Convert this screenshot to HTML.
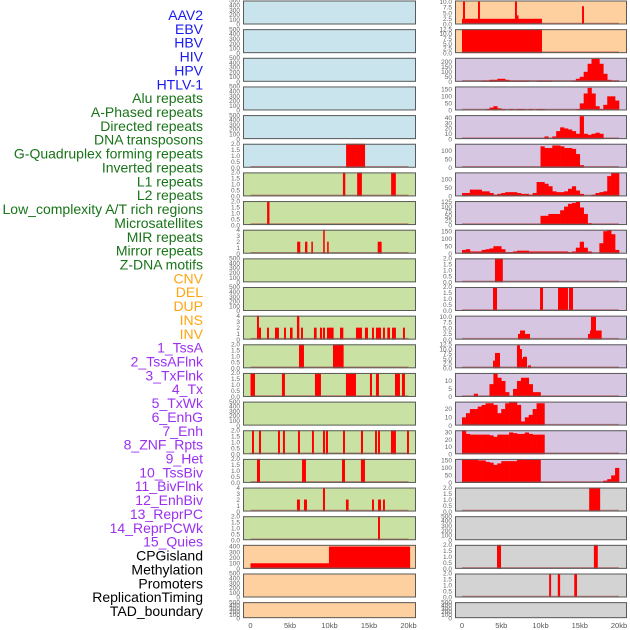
<!DOCTYPE html>
<html><head><meta charset="utf-8"><style>
html,body{margin:0;padding:0;background:#fff;width:630px;height:630px;overflow:hidden}
svg{display:block;font-family:"Liberation Sans",sans-serif}
</style></head><body>
<svg id="chart" width="630" height="630" viewBox="0 0 630 630" xmlns="http://www.w3.org/2000/svg"></svg>
<script>
// ---- Labels ----
const labels = ["AAV2","EBV","HBV","HIV","HPV","HTLV-1","Alu repeats","A-Phased repeats","Directed repeats","DNA transposons","G-Quadruplex forming repeats","Inverted repeats","L1 repeats","L2 repeats","Low_complexity A/T rich regions","Microsatellites","MIR repeats","Mirror repeats","Z-DNA motifs","CNV","DEL","DUP","INS","INV","1_TssA","2_TssAFlnk","3_TxFlnk","4_Tx","5_TxWk","6_EnhG","7_Enh","8_ZNF_Rpts","9_Het","10_TssBiv","11_BivFlnk","12_EnhBiv","13_ReprPC","14_ReprPCWk","15_Quies","CPGisland","Methylation","Promoters","ReplicationTiming","TAD_boundary"];
const labelGroups = [6,13,5,15,5];
const groupColors = ["#1a1aee","#187418","#ffa510","#9b30f0","#000000"];
const xTickValues = [0,5,10,15,20];
const xTickLabels = ["0","5kb","10kb","15kb","20kb"];

// ---- Tick sets ----
const ticks500 = [0,100,200,300,400,500];
const ticks2 = [0,0.5,1,1.5,2];
const ticks4 = [0,1,2,3,4];

// ---- Left column segments [startKb,endKb,value] ----
const L5 = [[12.1,14.5,2]];
const L6 = [[11.7,12.0,2],[13.5,14.1,2],[17.8,18.4,2]];
const L7 = [[2.1,2.4,2]];
const L8 = [[5.9,6.3,2],[6.9,7.2,2],[7.7,7.9,2],[9.2,9.4,4],[9.7,9.9,2],[16.1,16.6,2]];
const L11 = [[0.82,1.07,4],[1.07,1.33,2],[2.09,2.34,2],[3.1,3.6,2],[4.24,4.49,2],[5.0,5.33,2],[5.88,6.18,4],[6.39,6.64,2],[8.03,8.37,2],[8.79,9.05,2],[9.17,9.43,2],[9.68,10.52,2],[11.33,11.75,2],[13.35,14.11,2],[14.49,14.87,2],[15.38,15.63,2],[15.88,16.52,2],[16.77,17.02,2],[17.32,17.66,2],[17.91,18.41,2],[19.3,19.55,2]];
const L12 = [[6.14,6.77,2],[10.44,11.79,2]];
const L13 = [[0,0.57,2],[3.98,4.36,2],[8.16,8.92,2],[12.08,13.35,2],[15.12,15.38,2],[15.88,16.26,2],[18.29,18.92,2],[19.17,19.55,2]];
const L15 = [[0.19,0.44,2],[1.07,1.33,2],[3.48,3.73,2],[4.11,4.36,2],[6.01,6.26,2],[7.78,8.03,2],[9.17,9.43,2],[9.55,9.81,2],[11.71,11.96,2],[13.98,14.24,2],[15.76,16.01,2],[16.14,16.39,2],[17.78,18.41,2],[19.81,20.06,2]];
const L16 = [[0.82,1.2,2],[6.52,7.02,2],[11.58,11.96,2],[13.98,14.49,2]];
const L17 = [[5.88,6.26,2],[6.77,7.15,2],[9.17,9.43,4],[12.08,12.42,2],[15.38,15.63,2],[16.14,16.52,2],[16.77,17.02,2]];
const L18 = [[16.14,16.39,2]];
const L19 = [[0,9.93,100],[9.93,20.2,400]];

// ---- Right column: segments and 0.5kb bins ----
const R0 = [[0,10.19,2.5],[0.13,0.38,10],[2.04,2.29,10],[6.75,7.0,10],[7.0,7.2,4],[15.29,15.54,8]];
const R1 = [[0,10.19,12.5]];
const R2bins = [0,0,0,0,0,10,10,20,20,30,30,20,10,10,10,10,10,0,0,10,10,10,10,0,0,0,0,0,10,30,50,100,180,230,230,180,80,20,10,10];
const R3bins = [0,0,0,0,0,0,10,20,30,15,10,0,10,5,10,10,5,10,0,10,10,0,0,0,0,0,0,0,0,10,50,120,160,120,30,10,40,100,100,70];
const R4bins = [0,0,0,0,0,0,0,0,0,0,0,0,0,0,0,0,0,0,0,0,0,5,0,5,15,22,20,18,15,10,43,10,8,10,12,10,0,0,0,0];
const R5bins = [0,0,0,0,0,0,0,0,0,0,0,0,0,0,0,0,0,0,0,0,125,115,115,130,130,125,115,115,110,80,15,0,0,0,0,0,0,0,0,0];
const R6bins = [20,20,40,40,40,30,30,20,10,15,20,25,25,25,20,15,15,10,20,85,85,75,60,30,25,25,30,45,60,35,15,0,0,10,20,25,30,120,140,140];
const R7bins = [0,0,0,0,0,0,0,0,0,0,0,0,0,0,0,0,0,0,0,0,50,50,60,60,60,80,100,115,120,125,95,60,10,0,0,0,0,0,0,0];
const R8bins = [25,30,15,15,15,25,30,35,50,50,30,10,10,15,20,20,20,15,15,15,15,15,15,15,15,15,15,10,15,40,80,40,15,0,0,70,150,155,130,25];
const R9 = [[4.2,5.2,2]];
const R10 = [[3.95,4.46,2],[9.94,10.32,2],[12.23,13.5,2],[13.63,14.14,2]];
const R11 = [[7.13,7.39,2.5],[7.39,8.03,4],[8.03,8.66,2.5],[16.05,16.3,2.5],[16.3,16.43,4],[16.43,17.07,10],[17.07,17.79,4]];
const R12 = [[3.95,4.2,4],[4.2,4.84,8],[7.0,7.39,12],[7.39,7.64,10],[7.64,7.77,5],[7.77,8.28,6],[8.41,8.79,1.5]];
const R13bins = [0,0,0,2,0,0,0,8,15,12,10,3,0,5,10,12,12,8,3,3,0,0,0,0,0,0,0,0,0,0,0,0,0,0,0,0,0,0,0,0];
const R14bins = [10,15,20,20,23,25,27,27,25,15,20,27,29,29,25,5,10,13,20,27,27,0,0,0,0,0,0,0,0,0,0,0,0,0,0,0,0,0,0,0];
const R15bins = [33,28,27,27,27,27,27,26,24,27,27,27,30,29,28,28,30,28,27,27,27,0,0,0,0,0,0,0,0,0,0,0,0,0,0,0,0,0,0,0];
const R16bins = [155,155,155,155,150,150,140,135,120,130,145,145,145,145,155,155,155,155,155,155,5,5,5,5,5,0,0,0,0,0,0,0,0,0,0,0,15,25,50,100];
const R17 = [[16.2,17.6,2]];
const R19 = [[4.46,4.97,2],[16.8,17.3,2]];
const R20 = [[11.1,11.35,2],[12.2,12.5,2],[14.3,14.65,2]];

const BLUE="#c9e4ec", GREEN="#c9e2a4", ORANGE="#ffd09f", PURPLE="#d6c6e2", GREY="#d3d3d3";
// [col,row,bg,ymax,ticks,segs,bins]
const panels = [
 [0,0,BLUE,500,ticks500,null,null],[0,1,BLUE,500,ticks500,null,null],[0,2,BLUE,500,ticks500,null,null],
 [0,3,BLUE,500,ticks500,null,null],[0,4,BLUE,500,ticks500,null,null],[0,5,BLUE,2,ticks2,L5,null],
 [0,6,GREEN,2,ticks2,L6,null],[0,7,GREEN,2,ticks2,L7,null],[0,8,GREEN,4,ticks4,L8,null],
 [0,9,GREEN,500,ticks500,null,null],[0,10,GREEN,500,ticks500,null,null],[0,11,GREEN,4,ticks4,L11,null],
 [0,12,GREEN,2,ticks2,L12,null],[0,13,GREEN,2,ticks2,L13,null],[0,14,GREEN,500,ticks500,null,null],
 [0,15,GREEN,2,ticks2,L15,null],[0,16,GREEN,2,ticks2,L16,null],[0,17,GREEN,4,ticks4,L17,null],
 [0,18,GREEN,2,ticks2,L18,null],[0,19,ORANGE,430,[0,100,200,300,400],L19,null],
 [0,20,ORANGE,500,ticks500,null,null],[0,21,ORANGE,500,ticks500,null,null],
 [1,0,ORANGE,10.5,[0,2.5,5,7.5,10],R0,null],[1,1,ORANGE,12.5,[0,2.5,5,7.5,10,12.5],R1,null],
 [1,2,PURPLE,240,[0,50,100,150,200],null,R2bins],[1,3,PURPLE,170,[0,50,100,150],null,R3bins],
 [1,4,PURPLE,45,[0,10,20,30,40],null,R4bins],[1,5,PURPLE,140,[0,50,100],null,R5bins],
 [1,6,PURPLE,142,[0,50,100],null,R6bins],[1,7,PURPLE,130,[0,25,50,75,100,125],null,R7bins],
 [1,8,PURPLE,160,[0,50,100,150],null,R8bins],[1,9,PURPLE,2,ticks2,R9,null],
 [1,10,PURPLE,2,ticks2,R10,null],[1,11,PURPLE,10.5,[0,2.5,5,7.5,10],R11,null],
 [1,12,PURPLE,12.5,[0,2.5,5,7.5,10,12.5],R12,null],[1,13,PURPLE,15,[0,5,10],null,R13bins],
 [1,14,PURPLE,29,[0,10,20],null,R14bins],[1,15,PURPLE,33,[0,10,20,30],null,R15bins],
 [1,16,PURPLE,160,[0,50,100,150],null,R16bins],[1,17,GREY,2,ticks2,R17,null],
 [1,18,GREY,500,ticks500,null,null],[1,19,GREY,2,ticks2,R19,null],
 [1,20,GREY,2,ticks2,R20,null],[1,21,GREY,500,ticks500,null,null]
];

const NS="http://www.w3.org/2000/svg";
const svg=document.getElementById('chart');
function mk(tag,attrs,parent){const e=document.createElementNS(NS,tag);for(const k in attrs)e.setAttribute(k,attrs[k]);(parent||svg).appendChild(e);return e;}
const colX=[243,455], colW=[173,172], x0kb=[250.5,462], pxPerKb=[7.9,7.85];
function xScale(c,kb){return x0kb[c]+kb*pxPerKb[c];}
function rowTop(r){return 0.5+r*28.65;}
function rowH(r){return r===21?16:24;}
function fmt(v,ticks){const dec=ticks.some(t=>t%1!==0);return dec?v.toFixed(1):String(v);}

// labels
let li=0;
labelGroups.forEach((n,g)=>{for(let k=0;k<n;k++){
  const t=mk('text',{x:203,y:15+li*13.86+5,'text-anchor':'end','font-size':'14',fill:groupColors[g]});
  
  
  t.textContent=labels[li];li++;}});

panels.forEach(p=>{
  const [c,r,bg,ymax,ticks,segs,bins]=p;
  const top=rowTop(r),h=rowH(r),bot=top+h;
  const yS=v=>bot-Math.min(v,ymax)/ymax*h;
  const g=mk('g',{});
  
  
  mk('rect',{x:colX[c],y:top,width:colW[c],height:h,fill:bg},g);
  if(segs)segs.forEach(s=>{const x1=xScale(c,s[0]),x2=xScale(c,Math.min(s[1],20.6));
    const b=mk('rect',{x:x1,y:yS(s[2]),width:Math.max(x2-x1,1.2),height:bot-yS(s[2]),fill:'#ff0000'},g);
    
    });
  if(bins)bins.forEach((v,i)=>{if(!v)return;const x1=xScale(c,i*0.5),x2=xScale(c,i*0.5+0.5);
    const b=mk('rect',{x:x1,y:yS(v),width:x2-x1+0.3,height:bot-yS(v),fill:'#ff0000'},g);
    
    });
  if(ymax<=500 && (segs||bins)) mk('line',{x1:xScale(c,0),x2:xScale(c,20),y1:bot-1,y2:bot-1,stroke:'#b04040','stroke-width':1.5,opacity:0.6},g);
  mk('rect',{x:colX[c]+0.5,y:top+0.5,width:colW[c]-1,height:h-1,fill:'none',stroke:'#5a5a5a','stroke-width':1},g);
  ticks.forEach(t=>{const tx=mk('text',{x:colX[c]-3,y:yS(t)+2.2,'text-anchor':'end','font-size':'6.5',fill:'#666'},g);
    tx.textContent=fmt(t,ticks);});
});

[0,1].forEach(c=>{xTickValues.forEach((v,i)=>{
  const t=mk('text',{x:xScale(c,v),y:628,'text-anchor':'middle','font-size':'7.5',fill:'#555'});
  
  
  t.textContent=xTickLabels[i];});});
</script>
</body></html>
